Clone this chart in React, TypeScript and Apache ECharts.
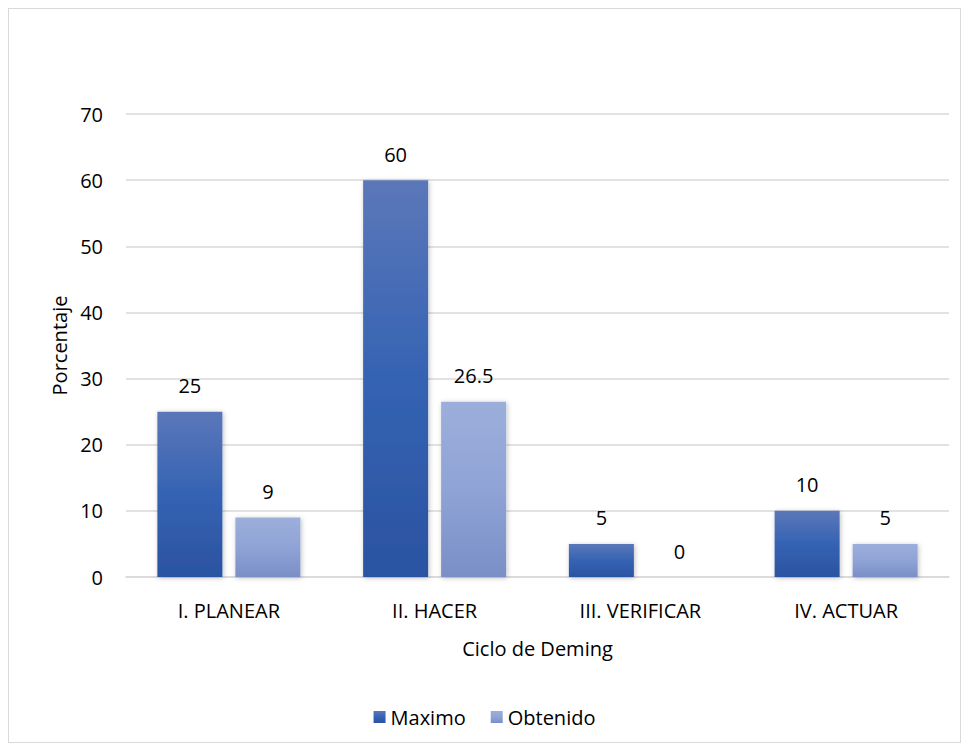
import React, { useEffect, useRef } from "react";
import * as echarts from "echarts";

const categories = ["I. PLANEAR", "II. HACER", "III. VERIFICAR", "IV. ACTUAR"];
const maximo = [25, 60, 5, 10];
const obtenido = [9, 26.5, 0, 5];
const yTicks = { min: 0, max: 70, interval: 10 };

const FONT = "'Open Sans', sans-serif";
const FS = 20;

export default function App() {
  const ref = useRef<HTMLDivElement>(null);
  useEffect(() => {
    if (!ref.current) return;
    const chart = echarts.init(ref.current, null, { renderer: "svg" });
    const labelStyle = {
      show: true,
      position: "top",
      distance: 16,
      fontSize: FS,
      color: "#000",
      fontFamily: FONT,
    };
    chart.setOption({
      animation: false,
      textStyle: { fontFamily: FONT },
      grid: { left: 117, right: 11, top: 105, bottom: 165 },
      legend: {
        data: ["Maximo", "Obtenido"],
        top: 693,
        left: "center",
        itemWidth: 12,
        itemHeight: 12,
        itemGap: 25,
        icon: "rect",
        textStyle: { fontSize: FS, color: "#000", fontFamily: FONT },
      },
      xAxis: {
        type: "category",
        data: categories,
        name: "Ciclo de Deming",
        nameLocation: "middle",
        nameGap: 61,
        nameTextStyle: { fontSize: FS, color: "#000", fontFamily: FONT },
        axisLine: { lineStyle: { color: "#d9d9d9", width: 1.5 } },
        axisTick: { show: false },
        axisLabel: { fontSize: FS, color: "#000", margin: 23, fontFamily: FONT },
      },
      yAxis: {
        type: "value",
        min: yTicks.min,
        max: yTicks.max,
        interval: yTicks.interval,
        name: "Porcentaje",
        nameLocation: "middle",
        nameGap: 57,
        nameTextStyle: { fontSize: FS, color: "#000", fontFamily: FONT },
        axisLine: { show: false },
        axisTick: { show: false },
        axisLabel: { fontSize: FS, color: "#000", margin: 23, fontFamily: FONT },
        splitLine: { lineStyle: { color: "#d9d9d9", width: 1.5 } },
      },
      series: [
        {
          name: "Maximo",
          type: "bar",
          data: maximo,
          barWidth: 65,
          barGap: "20%",
          itemStyle: {
            color: new echarts.graphic.LinearGradient(0, 0, 0, 1, [
              { offset: 0, color: "#5b77b9" },
              { offset: 0.5, color: "#3563b3" },
              { offset: 1, color: "#2b53a1" },
            ]),
            shadowBlur: 5,
            shadowColor: "rgba(0,0,0,0.25)",
            shadowOffsetX: 1,
            shadowOffsetY: 1,
          },
          label: labelStyle,
        },
        {
          name: "Obtenido",
          type: "bar",
          data: obtenido,
          barWidth: 65,
          itemStyle: {
            color: new echarts.graphic.LinearGradient(0, 0, 0, 1, [
              { offset: 0, color: "#9cafdb" },
              { offset: 0.5, color: "#8fa3d6" },
              { offset: 1, color: "#7a8fc6" },
            ]),
            shadowBlur: 5,
            shadowColor: "rgba(0,0,0,0.25)",
            shadowOffsetX: 1,
            shadowOffsetY: 1,
          },
          label: labelStyle,
        },
      ],
    });
    return () => chart.dispose();
  }, []);
  return (
    <div
      ref={ref}
      style={{
        width: 951,
        height: 733,
        border: "1px solid #d9d9d9",
        background: "#fff",
      }}
    />
  );
}
